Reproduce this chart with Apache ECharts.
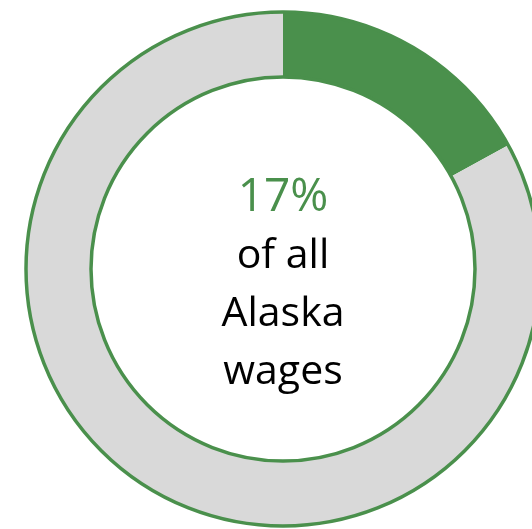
<!DOCTYPE html>
<html>
<head>
<meta charset="utf-8">
<script src="https://cdn.jsdelivr.net/npm/echarts@6/dist/echarts.min.js"></script>
<style>
  html, body { margin: 0; padding: 0; background: #fff; }
  #chart { width: 532px; height: 529px; }
</style>
</head>
<body>
<div id="chart"></div>
<script>
// share of all Alaska wages
const sliceNames = ['Share', 'Rest']
const sliceValues = [17, 83]
const sliceColors = ['#4a904c', '#d9d9d9']
const bigLabel = '17%'
const subLines = ['of all', 'Alaska', 'wages']

const chart = echarts.init(document.getElementById('chart'))

const option = {
  animation: false,
  title: {
    text: '{big|' + bigLabel + '}\n' + subLines.map(s => '{small|' + s + '}').join('\n'),
    left: 283,
    top: 169,
    padding: 0,
    textAlign: 'center',
    textStyle: {
      fontWeight: 'normal',
      rich: {
        big: { fontFamily: 'Open Sans', fontWeight: 'normal', fontSize: 46, color: '#4a904c', lineHeight: 58, align: 'center' },
        small: { fontFamily: 'Open Sans', fontWeight: 'normal', fontSize: 41, color: '#000', lineHeight: 58, align: 'center' }
      }
    }
  },
  series: [
    {
      type: 'pie',
      center: [283, 269],
      radius: [192, 257],
      startAngle: 90,
      clockwise: true,
      silent: true,
      label: { show: false },
      labelLine: { show: false },
      data: sliceNames.map((n, i) => ({
        name: n,
        value: sliceValues[i],
        itemStyle: { color: sliceColors[i] }
      }))
    },
    {
      // ring outline
      type: 'pie',
      center: [283, 269],
      radius: [192, 257],
      silent: true,
      label: { show: false },
      labelLine: { show: false },
      itemStyle: { color: 'rgba(0,0,0,0)', borderColor: '#4a904c', borderWidth: 3.5 },
      data: [{ name: 'outline', value: 100 }]
    }
  ]
}
chart.setOption(option)
</script>
</body>
</html>
